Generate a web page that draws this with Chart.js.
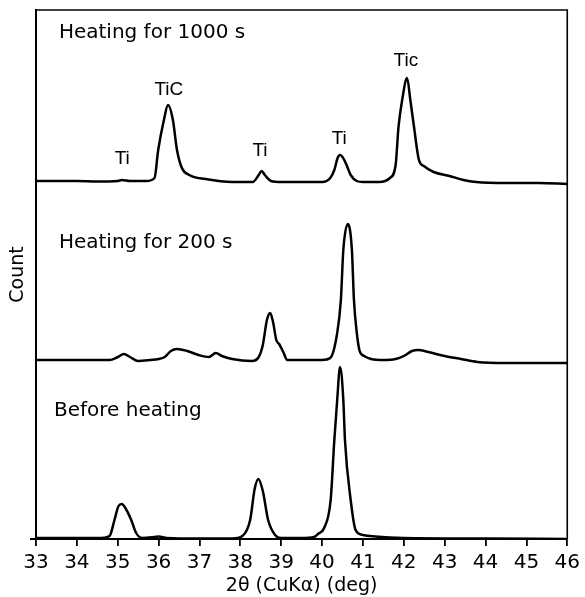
<!DOCTYPE html>
<html>
<head>
<meta charset="utf-8">
<script src="https://cdn.jsdelivr.net/npm/chart.js@4/dist/chart.umd.min.js"></script>
<style>
  html, body { margin: 0; padding: 0; background: #fff; }
  canvas { display: block; }
</style>
</head>
<body>
<canvas id="myChart" width="585" height="597"></canvas>
<script>
// 2 theta positions (deg) and counts (arbitrary units)
const angle1000 = [33.0, 33.5, 34.0, 34.5, 35.0, 35.1, 35.3, 35.7, 35.9, 35.99, 36.13, 36.23, 36.35, 36.45, 36.57, 36.75, 37.15, 37.8, 38.3, 38.45, 38.52, 38.6, 38.75, 39.0, 39.5, 40.0, 40.2, 40.3, 40.38, 40.44, 40.5, 40.6, 40.7, 40.85, 41.0, 41.4, 41.66, 41.8, 41.87, 41.96, 42.08, 42.16, 42.25, 42.37, 42.49, 42.73, 43.12, 43.46, 43.77, 44.5, 45.3, 46.0]
const count1000 = [358, 358, 358, 357.5, 358, 359, 358, 358, 361, 389, 419, 434, 419, 389, 371, 364, 360, 357, 357, 364, 368, 364, 358, 357, 357, 357, 361, 369, 381, 384, 382, 374, 364, 358, 357, 357, 361, 374, 412, 439, 461, 439, 412, 379, 373, 367, 363, 359, 357, 356, 356, 355]

const angle200 = [33.0, 34.0, 34.8, 35.0, 35.15, 35.3, 35.5, 35.8, 36.0, 36.15, 36.3, 36.45, 36.7, 36.98, 37.23, 37.4, 37.55, 37.8, 38.28, 38.45, 38.55, 38.65, 38.73, 38.8, 38.88, 38.95, 39.05, 39.15, 39.5, 40.0, 40.2, 40.37, 40.46, 40.52, 40.63, 40.73, 40.78, 40.85, 40.92, 41.03, 41.2, 41.5, 41.8, 42.0, 42.2, 42.35, 42.6, 43.0, 43.4, 43.8, 44.5, 46.0]
const count200 = [179, 179, 179, 182, 185, 182, 178, 179, 180, 182, 188, 190, 188, 184, 182, 186, 183, 180, 178, 182, 194, 219, 226, 217, 199, 195, 187, 179, 179, 179, 181, 206, 239, 289, 315, 289, 239, 206, 188, 183, 180, 179, 180, 183, 188, 189, 187, 183, 180, 177, 176, 176]

const angleBefore = [33.0, 34.0, 34.6, 34.8, 34.92, 35.02, 35.1, 35.2, 35.33, 35.45, 35.6, 35.9, 36.0, 36.2, 37.0, 37.8, 38.05, 38.24, 38.35, 38.44, 38.55, 38.68, 38.85, 39.0, 39.5, 39.8, 39.9, 40.05, 40.21, 40.3, 40.37, 40.44, 40.52, 40.56, 40.7, 40.82, 41.0, 41.3, 42.0, 44.0, 46.0]
const countBefore = [1, 1, 1, 3, 19, 33, 35, 30, 19, 6, 1, 2, 2.5, 1, 0.5, 0.5, 3, 19, 50, 60, 48, 19, 4, 1, 1, 2, 5, 11, 39, 99, 139, 172, 139, 99, 39, 9, 4, 2.5, 1, 0.5, 0]

const xTicks = [33, 34, 35, 36, 37, 38, 39, 40, 41, 42, 43, 44, 45, 46]

// text on the plot, placed in data units
const curveTitles = [
  { text: 'Heating for 1000 s', x: 33.56, y: 506 },
  { text: 'Heating for 200 s', x: 33.56, y: 296 },
  { text: 'Before heating', x: 33.44, y: 128 }
]
const peakLabels = [
  { text: 'Ti', x: 35.11, y: 380 },
  { text: 'TiC', x: 36.25, y: 449 },
  { text: 'Ti', x: 38.48, y: 388 },
  { text: 'Ti', x: 40.42, y: 400 },
  { text: 'Tic', x: 42.05, y: 478 }
]

function toPoints(xs, ys) {
  return xs.map((x, i) => ({ x: x, y: ys[i] }))
}

function curve(label, xs, ys) {
  return {
    label: label,
    data: toPoints(xs, ys),
    borderColor: '#000',
    borderWidth: 2.5,
    pointRadius: 0,
    fill: false,
    cubicInterpolationMode: 'monotone'
  }
}

const frameAndText = {
  id: 'frameAndText',
  afterDraw(chart) {
    const c = chart.ctx
    const a = chart.chartArea
    const sx = chart.scales.x
    const sy = chart.scales.y
    c.save()
    c.strokeStyle = '#000'
    c.lineWidth = 1.6
    c.beginPath()
    c.moveTo(a.left, a.top)
    c.lineTo(a.right, a.top)
    c.lineTo(a.right, a.bottom)
    c.stroke()
    // little stub of the baseline left of the y axis
    c.lineWidth = 2
    c.beginPath()
    c.moveTo(a.left - 6, a.bottom)
    c.lineTo(a.left, a.bottom)
    c.stroke()

    c.fillStyle = '#000'
    c.textBaseline = 'middle'
    c.textAlign = 'left'
    c.font = '20px "DejaVu Sans"'
    curveTitles.forEach(t => c.fillText(t.text, sx.getPixelForValue(t.x), sy.getPixelForValue(t.y)))
    c.textAlign = 'center'
    c.font = '19px "Liberation Sans"'
    peakLabels.forEach(t => c.fillText(t.text, sx.getPixelForValue(t.x), sy.getPixelForValue(t.y)))
    c.restore()
  }
}

const ctx = document.getElementById('myChart')

new Chart(ctx, {
  type: 'line',
  data: {
    datasets: [
      curve('Heating for 1000 s', angle1000, count1000),
      curve('Heating for 200 s', angle200, count200),
      curve('Before heating', angleBefore, countBefore)
    ]
  },
  options: {
    responsive: false,
    animation: false,
    devicePixelRatio: 1,
    layout: { padding: { top: 10, right: 13, left: 0, bottom: 0 } },
    plugins: {
      legend: { display: false },
      tooltip: { enabled: false }
    },
    scales: {
      x: {
        type: 'linear',
        min: 33,
        max: 46,
        afterBuildTicks: s => { s.ticks = xTicks.map(v => ({ value: v })) },
        afterFit: s => { s.height = 58 },
        ticks: {
          color: '#000',
          font: { family: 'DejaVu Sans', size: 20 },
          padding: 5,
          maxRotation: 0,
          autoSkip: false
        },
        grid: { drawOnChartArea: false, tickLength: 7, color: '#000', lineWidth: 1.8 },
        border: { color: '#000', width: 2 },
        title: {
          display: true,
          text: '2θ (CuKα) (deg)',
          color: '#000',
          font: { family: 'DejaVu Sans', size: 19 },
          padding: { top: 0, bottom: 0 }
        }
      },
      y: {
        min: 0,
        max: 529,
        afterFit: s => { s.width = 36 },
        ticks: { display: false },
        grid: { display: false },
        border: { color: '#000', width: 2 },
        title: {
          display: true,
          text: 'Count',
          color: '#000',
          font: { family: 'DejaVu Sans', size: 19 },
          padding: { top: 7, bottom: 0 }
        }
      }
    }
  },
  plugins: [frameAndText]
})
</script>
</body>
</html>
